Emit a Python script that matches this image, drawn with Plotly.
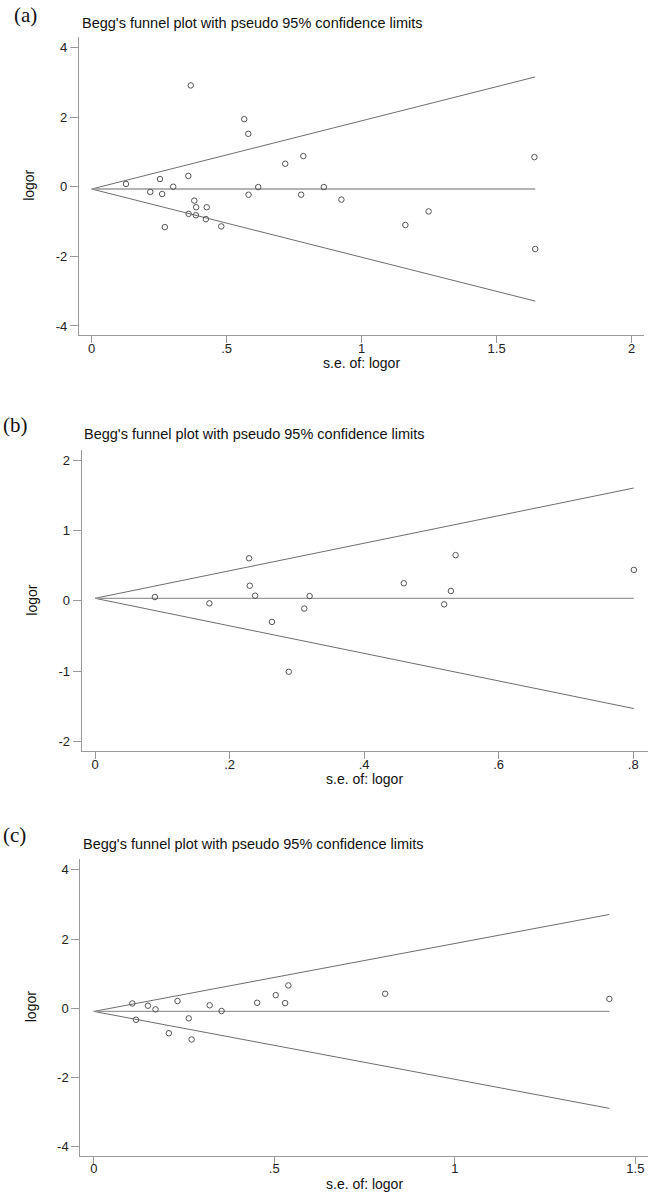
import plotly.graph_objects as go

# ---------------- data ----------------
# Panel (a)
se_a = [0.127, 0.217, 0.253, 0.261, 0.271, 0.302, 0.358, 0.359, 0.367, 0.380,
        0.386, 0.387, 0.423, 0.426, 0.480, 0.565, 0.580, 0.581, 0.617, 0.717,
        0.776, 0.784, 0.860, 0.925, 1.162, 1.248, 1.640, 1.643]
logor_a = [0.08, -0.15, 0.22, -0.21, -1.16, 0.00, 0.31, -0.78, 2.91, -0.40,
           -0.82, -0.59, -0.93, -0.59, -1.14, 1.94, 1.52, -0.23, -0.01, 0.66,
           -0.23, 0.88, -0.01, -0.37, -1.10, -0.71, 0.85, -1.79]
theta_a = -0.066

# Panel (b)
se_b = [0.089, 0.170, 0.229, 0.230, 0.238, 0.263, 0.288, 0.311, 0.319, 0.459,
        0.519, 0.529, 0.536, 0.801]
logor_b = [0.054, -0.036, 0.605, 0.215, 0.073, -0.30, -1.01, -0.11, 0.068, 0.25,
           -0.05, 0.14, 0.65, 0.44]
theta_b = 0.036

# Panel (c)
se_c = [0.107, 0.117, 0.150, 0.171, 0.208, 0.232, 0.263, 0.271, 0.321, 0.354,
        0.4525, 0.504, 0.530, 0.539, 0.807, 1.428]
logor_c = [0.14, -0.33, 0.075, -0.03, -0.72, 0.21, -0.29, -0.90, 0.087, -0.078,
           0.16, 0.38, 0.15, 0.66, 0.42, 0.27]
theta_c = -0.09

panel_labels = ["(a)", "(b)", "(c)"]
title_text = "Begg's funnel plot with pseudo 95% confidence limits"
x_title = "s.e. of: logor"
y_title = "logor"

xtick_a = [0, 0.5, 1, 1.5, 2]
xtick_a_text = ["0", ".5", "1", "1.5", "2"]
ytick_a = [-4, -2, 0, 2, 4]
ytick_a_text = ["-4", "-2", "0", "2", "4"]

xtick_b = [0, 0.2, 0.4, 0.6, 0.8]
xtick_b_text = ["0", ".2", ".4", ".6", ".8"]
ytick_b = [-2, -1, 0, 1, 2]
ytick_b_text = ["-2", "-1", "0", "1", "2"]

xtick_c = [0, 0.5, 1, 1.5]
xtick_c_text = ["0", ".5", "1", "1.5"]
ytick_c = [-4, -2, 0, 2, 4]
ytick_c_text = ["-4", "-2", "0", "2", "4"]

# ---------------- layout geometry (pixels) ----------------
W, H = 652, 1192
FONT = "Liberation Sans, Arial, sans-serif"
AXIS_COL = "#9a9a9a"
LINE_COL = "#6e6e6e"
MID_COL = "#9a9a9a"
PT_COL = "#555555"
TICK_FS = 13
TITLE_FS = 14.5
AXT_FS = 14

panels = [
    dict(se=se_a, lo=logor_a, th=theta_a, xt=xtick_a, xtt=xtick_a_text,
         yt=ytick_a, ytt=ytick_a_text, px=(79, 644), py=(36.7, 335),
         xr=(-0.047, 2.046), yr=(-4.26, 4.31),
         lab_xy=(25, 15), title_xy=(80, 23), ytitle_x=29),
    dict(se=se_b, lo=logor_b, th=theta_b, xt=xtick_b, xtt=xtick_b_text,
         yt=ytick_b, ytt=ytick_b_text, px=(81.7, 648), py=(450, 751.3),
         xr=(-0.0198, 0.822), yr=(-2.142, 2.147),
         lab_xy=(15, 425), title_xy=(82, 434), ytitle_x=32),
    dict(se=se_c, lo=logor_c, th=theta_c, xt=xtick_c, xtt=xtick_c_text,
         yt=ytick_c, ytt=ytick_c_text, px=(80.4, 648), py=(859, 1155.5),
         xr=(-0.037, 1.535), yr=(-4.25, 4.31),
         lab_xy=(14, 835), title_xy=(81, 844), ytitle_x=31),
]

fig = go.Figure()
annotations = []
layout_axes = {}

for i, p in enumerate(panels, start=1):
    xa = "x" if i == 1 else f"x{i}"
    ya = "y" if i == 1 else f"y{i}"
    se_max = max(p["se"])
    z = 1.96
    # funnel lines (pseudo 95% limits and pooled estimate)
    fig.add_trace(go.Scatter(x=[0, se_max], y=[p["th"], p["th"] + z * se_max],
                             mode="lines", line=dict(color=LINE_COL, width=1),
                             xaxis=xa, yaxis=ya, showlegend=False, hoverinfo="skip"))
    fig.add_trace(go.Scatter(x=[0, se_max], y=[p["th"], p["th"] - z * se_max],
                             mode="lines", line=dict(color=LINE_COL, width=1),
                             xaxis=xa, yaxis=ya, showlegend=False, hoverinfo="skip"))
    fig.add_trace(go.Scatter(x=[0, se_max], y=[p["th"], p["th"]],
                             mode="lines", line=dict(color=MID_COL, width=1.3),
                             xaxis=xa, yaxis=ya, showlegend=False, hoverinfo="skip"))
    # studies
    fig.add_trace(go.Scatter(x=p["se"], y=p["lo"], mode="markers",
                             marker=dict(symbol="circle-open", size=5.5,
                                         line=dict(color=PT_COL, width=1), color=PT_COL),
                             xaxis=xa, yaxis=ya, showlegend=False))

    x0, x1 = p["px"]
    ytop, ybot = p["py"]
    xdom = [x0 / W, x1 / W]
    ydom = [1 - ybot / H, 1 - ytop / H]
    xkey = "xaxis" if i == 1 else f"xaxis{i}"
    ykey = "yaxis" if i == 1 else f"yaxis{i}"
    layout_axes[xkey] = dict(domain=xdom, range=list(p["xr"]), anchor=ya,
                             tickvals=p["xt"], ticktext=p["xtt"],
                             showline=True, linecolor=AXIS_COL, linewidth=1.3,
                             ticks="outside", ticklen=7, tickcolor=AXIS_COL, tickwidth=1,
                             showgrid=False, zeroline=False, ticklabelstandoff=-6,
                             tickfont=dict(family=FONT, size=TICK_FS, color="#222222"))
    layout_axes[ykey] = dict(domain=ydom, range=list(p["yr"]), anchor=xa,
                             tickvals=p["yt"], ticktext=p["ytt"],
                             showline=True, linecolor=AXIS_COL, linewidth=1.3,
                             ticks="outside", ticklen=8, tickcolor=AXIS_COL, tickwidth=1,
                             showgrid=False, zeroline=False, tickangle=0,
                             tickfont=dict(family=FONT, size=TICK_FS, color="#222222"))

    # panel label
    lx, ly = p["lab_xy"]
    annotations.append(dict(text=panel_labels[i - 1], x=lx / W, y=1 - ly / H,
                            xref="paper", yref="paper", showarrow=False,
                            xanchor="center", yanchor="middle",
                            font=dict(family="Liberation Serif, Times New Roman, serif",
                                      size=21, color="#111111")))
    # title
    tx, ty = p["title_xy"]
    annotations.append(dict(text=title_text, x=tx / W, y=1 - ty / H,
                            xref="paper", yref="paper", showarrow=False,
                            xanchor="left", yanchor="middle",
                            font=dict(family=FONT, size=TITLE_FS, color="#111111")))
    # y title
    annotations.append(dict(text=y_title, x=p["ytitle_x"] / W,
                            y=1 - ((ytop + ybot) / 2) / H,
                            xref="paper", yref="paper", showarrow=False,
                            textangle=-90, xanchor="center", yanchor="middle",
                            font=dict(family=FONT, size=AXT_FS, color="#111111")))
    # x title
    annotations.append(dict(text=x_title, x=((x0 + x1) / 2) / W,
                            y=1 - (ybot + 28) / H,
                            xref="paper", yref="paper", showarrow=False,
                            xanchor="center", yanchor="middle",
                            font=dict(family=FONT, size=AXT_FS, color="#111111")))

fig.update_layout(width=W, height=H, margin=dict(l=0, r=0, t=0, b=0),
                  paper_bgcolor="white", plot_bgcolor="white",
                  annotations=annotations, **layout_axes)

fig.write_html("out.html", config={"displayModeBar": False},
               post_script="document.body.style.margin='0px';"
                           "document.body.style.padding='0px';"
                           "document.body.style.overflow='hidden';")
